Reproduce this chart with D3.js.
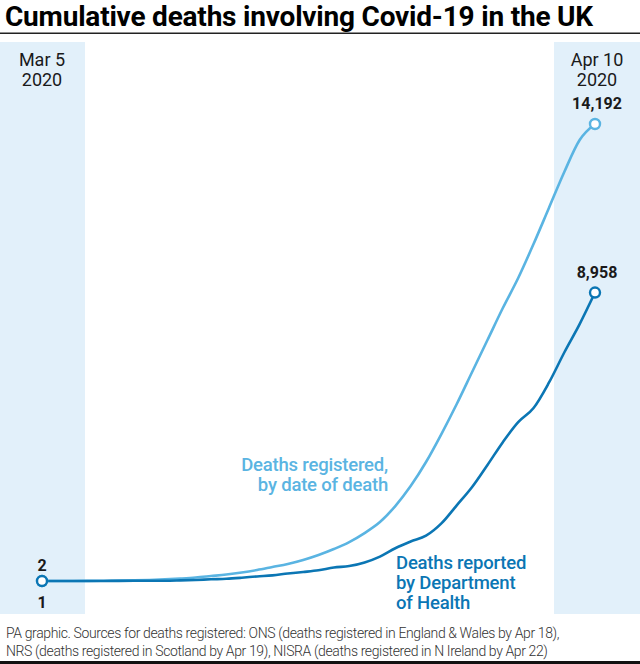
<!DOCTYPE html>
<html><head><meta charset="utf-8">
<script src="https://cdn.jsdelivr.net/npm/d3@7"></script>
<style>
html,body{margin:0;padding:0;background:#fff;}
svg{display:block;font-family:Roboto,"Noto Sans",sans-serif;}
</style></head><body>
<svg id="c" width="640" height="664"></svg>
<script>
// ---- data ----
const dates = ["2020-03-05","2020-03-06","2020-03-07","2020-03-08","2020-03-09","2020-03-10","2020-03-11","2020-03-12","2020-03-13","2020-03-14","2020-03-15","2020-03-16","2020-03-17","2020-03-18","2020-03-19","2020-03-20","2020-03-21","2020-03-22","2020-03-23","2020-03-24","2020-03-25","2020-03-26","2020-03-27","2020-03-28","2020-03-29","2020-03-30","2020-03-31","2020-04-01","2020-04-02","2020-04-03","2020-04-04","2020-04-05","2020-04-06","2020-04-07","2020-04-08","2020-04-09","2020-04-10"];
const registered = [2,3,4,6,9,14,22,35,53,78,109,155,202,264,342,435,528,652,807,994,1211,1491,1832,2329,2950,3696,4565,5497,6491,7484,8478,9410,10466,11584,12702,13695,14192];
const reported = [1,2,2,3,4,6,8,8,10,21,35,55,71,104,144,177,233,281,335,422,465,578,759,1019,1228,1408,1789,2352,2921,3605,4313,4934,5373,6159,7097,7978,8958];
const startLabels = ["Mar 5","2020"];
const endLabels = ["Apr 10","2020"];
const registeredLabel = ["Deaths registered,","by date of death"];
const reportedLabel = ["Deaths reported","by Department","of Health"];
const title = "Cumulative deaths involving Covid-19 in the UK";
const footer = ["PA graphic. Sources for deaths registered: ONS (deaths registered in England & Wales by Apr 18),",
                "NRS (deaths registered in Scotland by Apr 19), NISRA (deaths registered in N Ireland by Apr 22)"];

const LIGHT = "#5ab4e2", DARK = "#0b76b4", BAND = "#e2f0fa", INK = "#1a1a1a";
const svg = d3.select("#c");
const parse = d3.timeParse("%Y-%m-%d");
const pts = dates.map((d,i)=>({date:parse(d), reg:registered[i], rep:reported[i]}));

const x = d3.scaleTime().domain(d3.extent(pts, d=>d.date)).range([42, 595]);
const y = d3.scaleLinear().domain([0, 14192]).range([581.06, 124]);

// title
svg.append("text").attr("x",5).attr("y",26).attr("font-size",28).attr("font-weight",700)
  .attr("fill","#000").attr("letter-spacing",-0.2).text(title);
svg.append("rect").attr("x",0).attr("y",32.5).attr("width",640).attr("height",1.5).attr("fill","#222");

// bands
svg.append("rect").attr("x",0).attr("y",42).attr("width",85).attr("height",572).attr("fill",BAND);
svg.append("rect").attr("x",554).attr("y",42).attr("width",86).attr("height",572).attr("fill",BAND);

// date labels
const first = pts[0].date, last = pts[pts.length-1].date;
svg.append("g").selectAll("text").data(startLabels).join("text")
  .attr("x",x(first)).attr("y",(d,i)=>66+i*20).attr("text-anchor","middle")
  .attr("font-size",18).attr("fill",INK).text(d=>d);
svg.append("g").selectAll("text").data(endLabels).join("text")
  .attr("x",x(last)+2).attr("y",(d,i)=>66+i*20).attr("text-anchor","middle")
  .attr("font-size",18).attr("fill",INK).text(d=>d);

// lines
const line = key => d3.line().x(d=>x(d.date)).y(d=>y(d[key])).curve(d3.curveMonotoneX);
svg.append("path").datum(pts).attr("d",line("reg")).attr("fill","none").attr("stroke",LIGHT).attr("stroke-width",2.6);
svg.append("path").datum(pts).attr("d",line("rep")).attr("fill","none").attr("stroke",DARK).attr("stroke-width",2.6);

// end points
const fmt = d3.format(",");
const endPts = [
  {d:pts[0], key:"reg", c:LIGHT},
  {d:pts[0], key:"rep", c:DARK},
  {d:pts[pts.length-1], key:"reg", c:LIGHT},
  {d:pts[pts.length-1], key:"rep", c:DARK}
];
svg.append("g").selectAll("circle").data(endPts).join("circle")
  .attr("cx",e=>x(e.d.date)).attr("cy",e=>y(e.d[e.key])).attr("r",5)
  .attr("fill","#fff").attr("stroke",e=>e.c).attr("stroke-width",2.4);

// value labels
svg.append("text").attr("x",x(last)+2).attr("y",y(pts[pts.length-1].reg)-15).attr("text-anchor","middle")
  .attr("font-size",16).attr("font-weight",700).attr("fill",INK).text(fmt(pts[pts.length-1].reg));
svg.append("text").attr("x",x(last)+2).attr("y",y(pts[pts.length-1].rep)-15).attr("text-anchor","middle")
  .attr("font-size",16).attr("font-weight",700).attr("fill",INK).text(fmt(pts[pts.length-1].rep));
svg.append("text").attr("x",x(first)).attr("y",y(pts[0].reg)-10).attr("text-anchor","middle")
  .attr("font-size",16).attr("font-weight",700).attr("fill",INK).text(fmt(pts[0].reg));
svg.append("text").attr("x",x(first)).attr("y",y(pts[0].rep)+27).attr("text-anchor","middle")
  .attr("font-size",16).attr("font-weight",700).attr("fill",INK).text(fmt(pts[0].rep));

// series labels
svg.append("g").selectAll("text").data(registeredLabel).join("text")
  .attr("x",388).attr("y",(d,i)=>471+i*20).attr("text-anchor","end")
  .attr("font-size",18.5).attr("font-weight",500).attr("fill",LIGHT).attr("letter-spacing",-0.2).text(d=>d);
svg.append("g").selectAll("text").data(reportedLabel).join("text")
  .attr("x",396).attr("y",(d,i)=>569+i*20).attr("text-anchor","start")
  .attr("font-size",18.5).attr("font-weight",500).attr("fill",DARK).attr("letter-spacing",-0.2).text(d=>d);

// footer
svg.append("g").selectAll("text").data(footer).join("text")
  .attr("x",6).attr("y",(d,i)=>638+i*18).attr("font-size",14).attr("font-weight",300)
  .attr("fill","#333").attr("letter-spacing",-0.38).text(d=>d);
svg.append("rect").attr("x",0).attr("y",661).attr("width",640).attr("height",3).attr("fill","#111");
</script>
</body></html>
